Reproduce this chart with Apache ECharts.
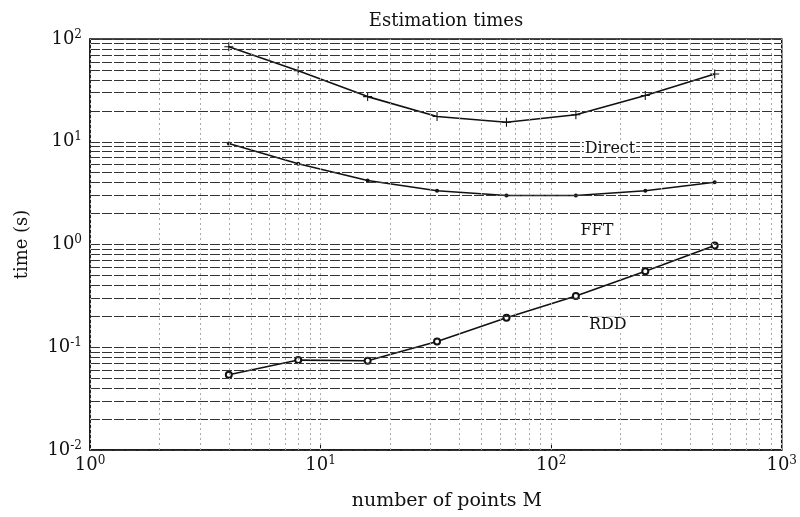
<!DOCTYPE html>
<html>
<head>
<meta charset="utf-8">
<script src="https://cdn.jsdelivr.net/npm/echarts@6/dist/echarts.min.js"></script>
<style>
  html, body { margin: 0; padding: 0; background: #fff; }
  #chart { width: 800px; height: 517px; }
</style>
</head>
<body>
<div id="chart"></div>
<script>
// data
var pointsM = [4, 8, 16, 32, 64, 128, 256, 512];
var directTimes = [84, 49, 27.5, 17.6, 15.5, 18.3, 28.2, 45.7];
var fftTimes = [9.6, 6.1, 4.2, 3.34, 3.0, 3.0, 3.34, 4.03];
var rddTimes = [0.054, 0.075, 0.074, 0.114, 0.194, 0.315, 0.55, 0.98];

var curveNames = ['Direct', 'FFT', 'RDD'];
var curveLabelPos = [[180, 8.6], [158, 1.37], [176, 0.167]];

var xDecades = [1, 10, 100, 1000];
var yDecades = [0.01, 0.1, 1, 10, 100];

var font = 'DejaVu Serif';

function pairs(xs, ys) {
  return xs.map(function (x, i) { return [x, ys[i]]; });
}

// grid lines at 1..9 of each decade
function gridValues(decades) {
  var out = [];
  for (var d = 0; d < decades.length - 1; d++) {
    for (var k = 1; k <= 9; k++) out.push(+(decades[d] * k).toPrecision(3));
  }
  out.push(decades[decades.length - 1]);
  return out;
}

var hLines = gridValues(yDecades).map(function (v) {
  return { yAxis: v, lineStyle: { color: '#333', type: [10, 2], width: 1 } };
});
var vLines = gridValues(xDecades).map(function (v) {
  return { xAxis: v, lineStyle: { color: '#aaa', type: [2, 3], width: 1 } };
});

function powLabel(v) {
  return '10{sup|' + Math.round(Math.log10(v)) + '}';
}
var labelRich = {
  sup: { fontSize: 12, verticalAlign: 'top', padding: [0, 0, 9, 0], fontFamily: font, color: '#111' }
};

var plusPath = 'path://M-0.12,-1 L0.12,-1 L0.12,-0.12 L1,-0.12 L1,0.12 L0.12,0.12 L0.12,1 L-0.12,1 L-0.12,0.12 L-1,0.12 L-1,-0.12 L-0.12,-0.12 Z';

var chart = echarts.init(document.getElementById('chart'));
chart.setOption({
  backgroundColor: '#fff',
  animation: false,
  title: {
    text: 'Estimation times',
    left: 441,
    textAlign: 'center',
    top: 7,
    textStyle: { fontFamily: font, fontSize: 18, fontWeight: 'normal', color: '#111' }
  },
  grid: {
    left: 90, right: 9, top: 39, bottom: 67,
    show: true, borderColor: '#111', borderWidth: 1.5, backgroundColor: 'transparent'
  },
  xAxis: {
    type: 'log', logBase: 10, min: 1, max: 1000,
    name: 'number of points M', nameLocation: 'middle', nameGap: 42,
    nameTextStyle: { fontFamily: font, fontSize: 19, color: '#111', padding: [0, 0, 0, 22] },
    axisLine: { lineStyle: { color: '#111', width: 1.5 } },
    axisTick: { inside: true, length: 5, lineStyle: { color: '#111' } },
    splitLine: { show: false },
    axisLabel: {
      formatter: powLabel, rich: labelRich, margin: 5,
      fontFamily: font, fontSize: 18, color: '#111'
    }
  },
  yAxis: {
    type: 'log', logBase: 10, min: 0.01, max: 100,
    name: 'time (s)', nameLocation: 'middle', nameGap: 59, nameRotate: 90,
    nameTextStyle: { fontFamily: font, fontSize: 18, color: '#111' },
    axisLine: { lineStyle: { color: '#111', width: 1.5 } },
    axisTick: { inside: true, length: 5, lineStyle: { color: '#111' } },
    splitLine: { show: false },
    axisLabel: {
      formatter: powLabel, rich: labelRich, margin: 8,
      fontFamily: font, fontSize: 18, color: '#111'
    }
  },
  series: [
    {
      name: 'grid',
      type: 'line',
      data: [],
      silent: true,
      markLine: {
        silent: true,
        symbol: ['none', 'none'],
        label: { show: false },
        animation: false,
        data: hLines.concat(vLines)
      },
      markPoint: {
        silent: true,
        symbol: 'circle', symbolSize: 0,
        label: {
          show: true, position: 'inside', color: '#111',
          fontFamily: font, fontSize: 16, backgroundColor: '#fff', padding: [0, 1]
        },
        data: curveNames.map(function (n, i) {
          return { coord: curveLabelPos[i], value: n, label: { formatter: n } };
        })
      },
      z: 1
    },
    {
      name: 'Direct', type: 'line',
      data: pairs(pointsM, directTimes),
      symbol: plusPath, symbolSize: 9,
      itemStyle: { color: '#111' },
      lineStyle: { color: '#111', width: 1.6 },
      z: 3
    },
    {
      name: 'FFT', type: 'line',
      data: pairs(pointsM, fftTimes),
      symbol: 'circle', symbolSize: 4,
      itemStyle: { color: '#111' },
      lineStyle: { color: '#111', width: 1.6 },
      z: 3
    },
    {
      name: 'RDD', type: 'line',
      data: pairs(pointsM, rddTimes),
      symbol: 'emptyCircle', symbolSize: 6,
      itemStyle: { color: '#111', borderWidth: 1.5 },
      lineStyle: { color: '#111', width: 1.6 },
      z: 3
    }
  ]
});
</script>
</body>
</html>
